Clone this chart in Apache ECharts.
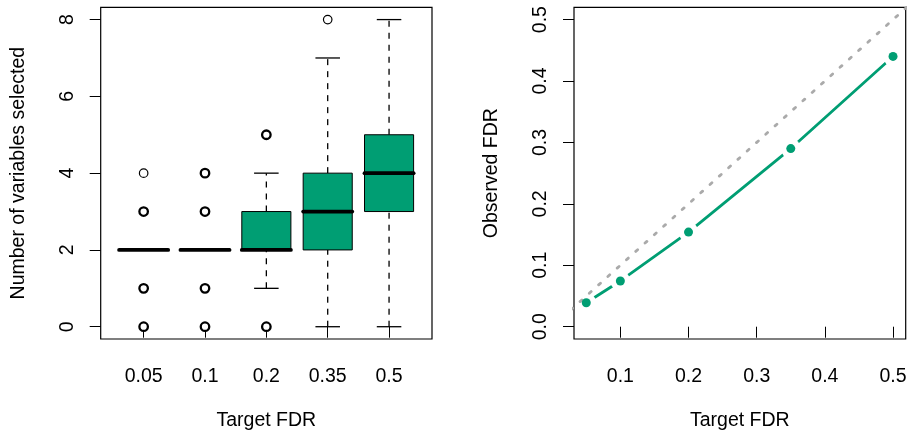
<!DOCTYPE html>
<html>
<head>
<meta charset="utf-8">
<script src="https://cdn.jsdelivr.net/npm/echarts@6/dist/echarts.min.js"></script>
<style>
html,body{margin:0;padding:0;background:#fff;}
#chart{width:907px;height:434px;}
</style>
</head>
<body>
<div id="chart"></div>
<script>
// ---- Data ----
const categories = ['0.05', '0.1', '0.2', '0.35', '0.5'];
// box stats per category: [lowerWhisker, q1, median, q3, upperWhisker]
const boxLower  = [2, 2, 1, 0, 0];
const boxQ1     = [2, 2, 2, 2, 3];
const boxMedian = [2, 2, 2, 3, 4];
const boxQ3     = [2, 2, 3, 4, 5];
const boxUpper  = [2, 2, 4, 7, 8];
// outliers: [categoryIndex (1-based), value, overplotted count]
const outliers = [
  [1, 0, 3], [1, 1, 3], [1, 3, 3], [1, 4, 1],
  [2, 0, 3], [2, 1, 3], [2, 3, 3], [2, 4, 3],
  [3, 0, 3], [3, 5, 3],
  [4, 8, 1]
];
const leftYTicks = [0, 2, 4, 6, 8];

const targetFdr   = [0.05, 0.1, 0.2, 0.35, 0.5];
const observedFdr = [0.039, 0.0745, 0.154, 0.29, 0.44];
const rightXTicks = [0.1, 0.2, 0.3, 0.4, 0.5];
const rightYTicks = [0.0, 0.1, 0.2, 0.3, 0.4, 0.5];
const diagonal    = [[0, 0], [0.6, 0.6]];

// ---- Chart ----
const GREEN = '#009E73';
const FONT = "'Liberation Sans', Arial, Helvetica, sans-serif";
const FS = 19.5;
const chart = echarts.init(document.getElementById('chart'), null, {renderer: 'canvas'});

const boxData = categories.map((c, i) => [i + 1, boxLower[i], boxQ1[i], boxMedian[i], boxQ3[i], boxUpper[i]]);

function renderBox(params, api) {
  const x = api.value(0);
  const lo = api.value(1), q1 = api.value(2), med = api.value(3), q3 = api.value(4), hi = api.value(5);
  const w = api.size([0.8, 0])[0];
  const cap = w / 2;
  const pLo = api.coord([x, lo]);
  const pQ1 = api.coord([x, q1]);
  const pMed = api.coord([x, med]);
  const pQ3 = api.coord([x, q3]);
  const pHi = api.coord([x, hi]);
  const dash = {stroke: '#000', lineWidth: 1.3, lineDash: [6, 6]};
  const solid = {stroke: '#000', lineWidth: 1.3};
  return {
    type: 'group',
    children: [
      {type: 'line', shape: {x1: pLo[0], y1: pLo[1], x2: pQ1[0], y2: pQ1[1]}, style: dash},
      {type: 'line', shape: {x1: pQ3[0], y1: pQ3[1], x2: pHi[0], y2: pHi[1]}, style: dash},
      {type: 'line', shape: {x1: pLo[0] - cap / 2, y1: pLo[1], x2: pLo[0] + cap / 2, y2: pLo[1]}, style: solid},
      {type: 'line', shape: {x1: pHi[0] - cap / 2, y1: pHi[1], x2: pHi[0] + cap / 2, y2: pHi[1]}, style: solid},
      {type: 'rect', shape: {x: pQ1[0] - w / 2, y: pQ3[1], width: w, height: pQ1[1] - pQ3[1]},
        style: {fill: GREEN, stroke: '#000', lineWidth: 1}},
      {type: 'line', shape: {x1: pMed[0] - w / 2, y1: pMed[1], x2: pMed[0] + w / 2, y2: pMed[1]},
        style: {stroke: '#000', lineWidth: 3.8, lineCap: 'round'}}
    ]
  };
}

const axisCommon = {
  axisLine: {show: false},
  splitLine: {show: false},
  axisTick: {show: true, inside: false, length: 11, lineStyle: {color: '#000', width: 1}},
  nameTextStyle: {fontFamily: FONT, fontSize: FS, color: '#000'},
  nameLocation: 'middle'
};

const option = {
  animation: false,
  backgroundColor: '#fff',
  grid: [
    {left: 100.7, top: 7.3, width: 331.3, height: 331.7, show: true, borderColor: '#000', borderWidth: 1.2,
      backgroundColor: 'transparent', containLabel: false, outerBoundsMode: 'none'},
    {left: 574, top: 7.3, width: 331.7, height: 331.7, show: true, borderColor: '#000', borderWidth: 1.2,
      backgroundColor: 'transparent', containLabel: false, outerBoundsMode: 'none'}
  ],
  xAxis: [
    Object.assign({}, axisCommon, {
      gridIndex: 0, type: 'value', min: 0.3, max: 5.7,
      name: 'Target FDR', nameGap: 72,
      axisTick: Object.assign({}, axisCommon.axisTick, {customValues: [1, 2, 3, 4, 5]}),
      axisLabel: {customValues: [1, 2, 3, 4, 5], formatter: v => categories[Math.round(v) - 1],
        margin: 28, fontFamily: FONT, fontSize: FS, color: '#000'}
    }),
    Object.assign({}, axisCommon, {
      gridIndex: 1, type: 'value', min: 0.032, max: 0.5186,
      name: 'Target FDR', nameGap: 72,
      axisTick: Object.assign({}, axisCommon.axisTick, {customValues: rightXTicks}),
      axisLabel: {customValues: rightXTicks, formatter: v => String(v),
        margin: 28, fontFamily: FONT, fontSize: FS, color: '#000'}
    })
  ],
  yAxis: [
    Object.assign({}, axisCommon, {
      gridIndex: 0, type: 'value', min: -0.32, max: 8.32,
      name: 'Number of variables selected', nameGap: 72, nameRotate: 90,
      axisTick: Object.assign({}, axisCommon.axisTick, {customValues: leftYTicks}),
      axisLabel: {customValues: leftYTicks, rotate: 90, formatter: v => String(v),
        margin: 23, fontFamily: FONT, fontSize: FS, color: '#000'}
    }),
    Object.assign({}, axisCommon, {
      gridIndex: 1, type: 'value', min: -0.02, max: 0.52,
      name: 'Observed FDR', nameGap: 72, nameRotate: 90,
      axisTick: Object.assign({}, axisCommon.axisTick, {customValues: rightYTicks}),
      axisLabel: {customValues: rightYTicks, rotate: 90, formatter: v => v.toFixed(1),
        margin: 23, fontFamily: FONT, fontSize: FS, color: '#000'}
    })
  ],
  series: [
    {
      type: 'custom', xAxisIndex: 0, yAxisIndex: 0,
      renderItem: renderBox, data: boxData,
      encode: {x: 0, y: [1, 2, 3, 4, 5]}, z: 2, silent: true
    },
    {
      type: 'scatter', xAxisIndex: 0, yAxisIndex: 0,
      data: outliers.map(o => ({value: [o[0], o[1]],
        itemStyle: {borderWidth: o[2] > 1 ? 2.3 : 1.2}})),
      symbol: 'circle', symbolSize: 8.5,
      itemStyle: {color: '#fff', borderColor: '#000', opacity: 1},
      z: 3, silent: true
    },
    {
      type: 'line', xAxisIndex: 1, yAxisIndex: 1,
      data: targetFdr.map((x, i) => [x, observedFdr[i]]),
      showSymbol: false, symbol: 'none',
      lineStyle: {color: GREEN, width: 2.8},
      z: 2, silent: true
    },
    {
      type: 'scatter', xAxisIndex: 1, yAxisIndex: 1,
      data: targetFdr.map((x, i) => [x, observedFdr[i]]),
      symbol: 'circle', symbolSize: 20,
      itemStyle: {color: '#fff', opacity: 1},
      z: 3, silent: true
    },
    {
      type: 'line', xAxisIndex: 1, yAxisIndex: 1,
      data: diagonal, showSymbol: false, symbol: 'none', clip: true,
      lineStyle: {color: '#aaaaaa', width: 2.8, type: [2.5, 10], cap: 'round'},
      z: 4, silent: true
    },
    {
      type: 'scatter', xAxisIndex: 1, yAxisIndex: 1,
      data: targetFdr.map((x, i) => [x, observedFdr[i]]),
      symbol: 'circle', symbolSize: 9,
      itemStyle: {color: GREEN, opacity: 1},
      z: 5, silent: true
    }
  ]
};
chart.setOption(option);
</script>
</body>
</html>
